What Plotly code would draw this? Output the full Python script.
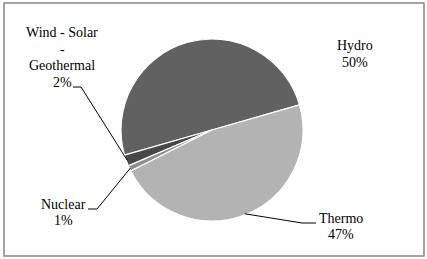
import math
import plotly.graph_objects as go

labels = ["Hydro", "Wind - Solar\n-\nGeothermal", "Nuclear", "Thermo"]
values = [50, 2, 1, 47]
colors = ["#616161", "#474747", "#8e8e8e", "#b3b3b3"]

W, H = 427, 259
CX, CY, R = 212, 130, 91
START_MATH = 16  # math angle (deg) where the first slice starts, going counterclockwise
LINE_H = 16.4

# label layout: (x centre, y centre of first text line) in pixels, and leader elbows
label_pos = [(355, 46), (62, 33), (63, 204), (341, 218)]
leaders = [None, ((81, 87), (73, 87)), ((97, 209), (88, 209)), ((302, 223), (316, 223))]

def px(x):
    return x / W

def py(y):
    return 1 - y / H

total = sum(values)
# plotly (counterclockwise): first slice spans [rotation, rotation + v0] measured clockwise from 12 o'clock
rotation = (90 - START_MATH) - 360 * values[0] / total

fig = go.Figure(go.Pie(
    labels=[l.replace("\n", " ") for l in labels], values=values, sort=False,
    direction="counterclockwise", rotation=rotation, textinfo="none", hoverinfo="none",
    marker=dict(colors=colors, line=dict(color="white", width=1.2)),
    domain=dict(x=[px(CX - R), px(CX + R)], y=[py(CY + R), py(CY - R)]),
    showlegend=False,
))

cum = 0
annotations = []
shapes = [dict(type="rect", xref="paper", yref="paper",
               x0=px(4), x1=px(424), y0=py(256), y1=py(3),
               line=dict(color="#878787", width=1.5))]
for lab, v, pos, ld in zip(labels, values, label_pos, leaders):
    mid = START_MATH + 360 * (cum + v / 2) / total
    cum += v
    pct = round(100 * v / total)
    lines = lab.split("\n") + [f"{pct}%"]
    for i, t in enumerate(lines):
        annotations.append(dict(
            x=px(pos[0]), y=py(pos[1] + i * LINE_H), xref="paper", yref="paper",
            text=t, showarrow=False, xanchor="center", yanchor="middle",
            font=dict(family="Liberation Serif", size=14, color="black"),
        ))
    if ld:
        ax = CX + (R - 1) * math.cos(math.radians(mid))
        ay = CY - (R - 1) * math.sin(math.radians(mid))
        (ex, ey), (hx, hy) = ld
        path = f"M {px(ax)},{py(ay)} L {px(ex)},{py(ey)} L {px(hx)},{py(hy)}"
        shapes.append(dict(type="path", xref="paper", yref="paper", path=path,
                           line=dict(color="black", width=1)))

fig.update_layout(
    width=W, height=H, margin=dict(l=0, r=0, t=0, b=0),
    paper_bgcolor="white", plot_bgcolor="white",
    annotations=annotations, shapes=shapes,
)
fig.write_html("out.html", config={"displayModeBar": False},
               post_script="document.body.style.margin='0';")
